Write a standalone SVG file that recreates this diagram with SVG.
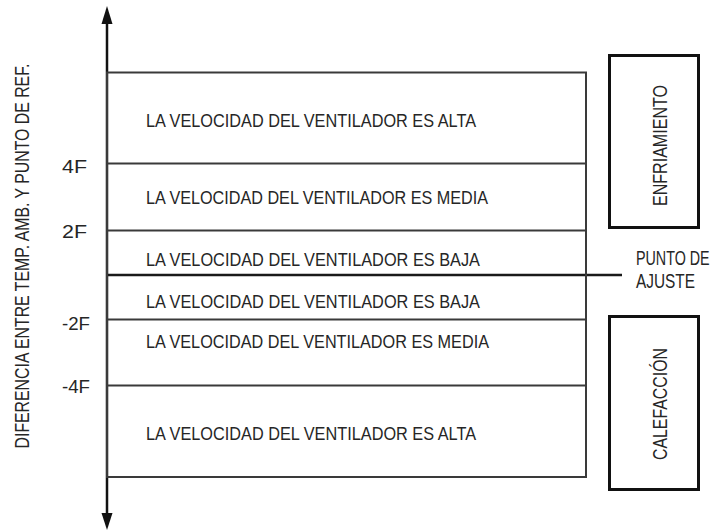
<svg xmlns="http://www.w3.org/2000/svg" width="721" height="531" viewBox="0 0 721 531">
<style>
  .t { font-family: "Liberation Sans", Arial, sans-serif; fill: #262626; }
  .body { font-size: 18.5px; }
  .lbl { font-size: 18.5px; }
  .big { font-size: 20px; }
  .band { stroke: #3a3a3a; stroke-width: 2; fill: none; }
  .box { stroke: #111; stroke-width: 3; fill: #fff; }
</style>
<rect width="721" height="531" fill="#fff"/>

<g id="connectors">
  <line x1="107" y1="20" x2="107" y2="516" stroke="#111" stroke-width="2.5"/>
  <polygon points="107,6 101.5,24 112.5,24" fill="#111"/>
  <polygon points="107,530 101.5,513 112.5,513" fill="#111"/>
  <line x1="107" y1="275" x2="622" y2="275" stroke="#1a1a1a" stroke-width="2.5"/>
</g>

<g id="chart">
  <rect class="band" x="107" y="72.5" width="479" height="404.5"/>
  <line class="band" x1="107" y1="163.5" x2="586" y2="163.5"/>
  <line class="band" x1="107" y1="230.5" x2="586" y2="230.5"/>
  <line class="band" x1="107" y1="319.5" x2="586" y2="319.5"/>
  <line class="band" x1="107" y1="385.5" x2="586" y2="385.5"/>
</g>

<g id="rows">
  <text class="t body" x="146" y="127" textLength="330" lengthAdjust="spacingAndGlyphs">LA VELOCIDAD DEL VENTILADOR ES ALTA</text>
  <text class="t body" x="146" y="204" textLength="342" lengthAdjust="spacingAndGlyphs">LA VELOCIDAD DEL VENTILADOR ES MEDIA</text>
  <text class="t body" x="146" y="266" textLength="334" lengthAdjust="spacingAndGlyphs">LA VELOCIDAD DEL VENTILADOR ES BAJA</text>
  <text class="t body" x="146" y="308" textLength="334" lengthAdjust="spacingAndGlyphs">LA VELOCIDAD DEL VENTILADOR ES BAJA</text>
  <text class="t body" x="146" y="348" textLength="343" lengthAdjust="spacingAndGlyphs">LA VELOCIDAD DEL VENTILADOR ES MEDIA</text>
  <text class="t body" x="146" y="440" textLength="330" lengthAdjust="spacingAndGlyphs">LA VELOCIDAD DEL VENTILADOR ES ALTA</text>
</g>

<g id="ticks">
  <text class="t lbl" x="62" y="173" textLength="25" lengthAdjust="spacingAndGlyphs">4F</text>
  <text class="t lbl" x="62" y="238" textLength="25" lengthAdjust="spacingAndGlyphs">2F</text>
  <text class="t lbl" x="62" y="330" textLength="28" lengthAdjust="spacingAndGlyphs">-2F</text>
  <text class="t lbl" x="62" y="393" textLength="28" lengthAdjust="spacingAndGlyphs">-4F</text>
</g>

<g id="axis-label">
  <text class="t big" transform="translate(28.5,256) rotate(-90) scale(0.7926,1)" text-anchor="middle">DIFERENCIA ENTRE TEMP. AMB. Y PUNTO DE REF.</text>
</g>

<g id="enfriamiento">
  <rect class="box" x="609.5" y="55.5" width="89" height="172"/>
  <text class="t big" transform="translate(666.5,145.5) rotate(-90)" text-anchor="middle" textLength="121" lengthAdjust="spacingAndGlyphs">ENFRIAMIENTO</text>
</g>

<g id="calefaccion">
  <rect class="box" x="609.5" y="316.5" width="89" height="173"/>
  <text class="t big" transform="translate(666.5,404) rotate(-90)" text-anchor="middle" textLength="112" lengthAdjust="spacingAndGlyphs">CALEFACCIÓN</text>
</g>

<g id="punto-ajuste">
  <text class="t big" transform="translate(636,265) scale(0.716,1)">PUNTO DE</text>
  <text class="t big" transform="translate(636,288) scale(0.77,1)">AJUSTE</text>
</g>
</svg>
